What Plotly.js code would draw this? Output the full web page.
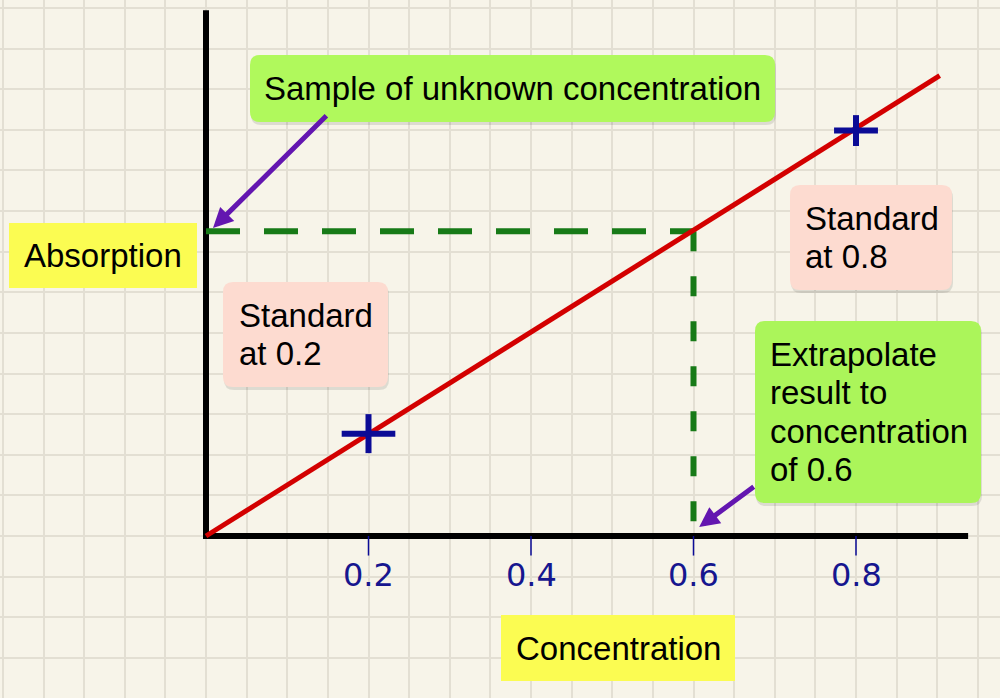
<!DOCTYPE html>
<html>
<head>
<meta charset="utf-8">
<script src="https://cdn.plot.ly/plotly-3.0.1.min.js"></script>
<style>html,body{margin:0;padding:0;background:#f7f4e9;}#chart{width:1000px;height:698px;}</style>
</head>
<body>
<div id="chart"></div>
<script>
// ---- data ----
const calibConc = [0, 0.903];
const calibAbs = [0, 0.5665];
const standardConc = [0.2, 0.8];
const standardAbs = [0.126, 0.499];
const plusHalfWidth = [0.033, 0.027];
const plusHalfHeight = [0.024, 0.019];
const sampleConc = 0.6;
const sampleAbs = 0.375;
const tickValues = [0.2, 0.4, 0.6, 0.8];
const tickLabels = ["0.2", "0.4", "0.6", "0.8"];
const xAxisEnd = 0.938;
const yAxisEnd = 0.647;

// ---- page geometry (px) ----
const W = 1000, H = 698;
const px = x => x / W;
const py = y => 1 - y / H;

function roundRect(x0, y0, x1, y1, r) {
  const rx = r / W, ry = r / H;
  const X0 = px(x0), X1 = px(x1), Y0 = py(y0), Y1 = py(y1);
  if (r === 0) return `M${X0},${Y0} L${X1},${Y0} L${X1},${Y1} L${X0},${Y1} Z`;
  return `M${X0 + rx},${Y0} L${X1 - rx},${Y0} Q${X1},${Y0} ${X1},${Y0 - ry} ` +
         `L${X1},${Y1 + ry} Q${X1},${Y1} ${X1 - rx},${Y1} ` +
         `L${X0 + rx},${Y1} Q${X0},${Y1} ${X0},${Y1 + ry} ` +
         `L${X0},${Y0 - ry} Q${X0},${Y0} ${X0 + rx},${Y0} Z`;
}

const boxes = [
  {lines: ["Sample of unknown concentration"], x0: 250, y0: 55, x1: 775, y1: 122, fill: "#b0f95c", r: 10, align: "center", shadow: true},
  {lines: ["Absorption"], x0: 9, y0: 223, x1: 197, y1: 288, fill: "#fbfc52", r: 0, align: "center", shadow: false},
  {lines: ["Standard", "at 0.2"], x0: 223, y0: 282, x1: 388, y1: 387, fill: "#fddbd0", r: 10, align: "left", pad: 14, shadow: true},
  {lines: ["Standard", "at 0.8"], x0: 790, y0: 185, x1: 952, y1: 290, fill: "#fddbd0", r: 10, align: "left", pad: 13, shadow: true},
  {lines: ["Extrapolate", "result to", "concentration", "of 0.6"], x0: 755, y0: 321, x1: 981, y1: 503, fill: "#abf55a", r: 10, align: "left", pad: 13, shadow: true},
  {lines: ["Concentration"], x0: 501, y0: 615, x1: 735, y1: 681, fill: "#fbfc52", r: 0, align: "center", shadow: false}
];

const textFont = {family: "Liberation Sans, Arial, sans-serif", size: 33, color: "#000000"};
const lineStep = 38.5;

const shapes = [];
const annotations = [];
boxes.forEach(b => {
  if (b.shadow) {
    shapes.push({type: "path", xref: "paper", yref: "paper", layer: "above",
      path: roundRect(b.x0 + 1, b.y0 + 3, b.x1 + 1, b.y1 + 3, b.r),
      fillcolor: "rgba(0,0,0,0.10)", line: {width: 0}});
  }
  shapes.push({type: "path", xref: "paper", yref: "paper", layer: "above",
    path: roundRect(b.x0, b.y0, b.x1, b.y1, b.r),
    fillcolor: b.fill, line: {width: 0}});
  const cyPx = (b.y0 + b.y1) / 2;
  const n = b.lines.length;
  b.lines.forEach((t, i) => {
    const yy = py(cyPx + (i - (n - 1) / 2) * lineStep);
    if (b.align === "center") {
      annotations.push({xref: "paper", yref: "paper", x: px((b.x0 + b.x1) / 2), y: yy,
        xanchor: "center", yanchor: "middle", text: t, showarrow: false, font: textFont});
    } else {
      annotations.push({xref: "paper", yref: "paper", x: px(b.x0 + b.pad), y: yy,
        xanchor: "left", yanchor: "middle", align: "left", text: t, showarrow: false, font: textFont});
    }
  });
});

// tick labels (handwritten style)
tickValues.forEach((v, i) => {
  annotations.push({xref: "x", yref: "y", x: v, y: -0.048, text: tickLabels[i], showarrow: false,
    xanchor: "center", yanchor: "middle",
    font: {family: "DejaVu Sans, sans-serif", size: 32, color: "#16168f"}});
});

// purple arrows
const purple = "#6316b0";
annotations.push({xref: "x", yref: "y", axref: "x", ayref: "y",
  x: 0.0086, y: 0.379, ax: 0.150, ay: 0.519, text: "", showarrow: true,
  arrowhead: 2, arrowsize: 0.8, arrowwidth: 5, arrowcolor: purple, standoff: 0, startstandoff: 0});
annotations.push({xref: "x", yref: "y", axref: "x", ayref: "y",
  x: 0.607, y: 0.011, ax: 0.676, ay: 0.062, text: "", showarrow: true,
  arrowhead: 2, arrowsize: 0.8, arrowwidth: 5, arrowcolor: purple, standoff: 0, startstandoff: 0});

const green = "#177a17";
const blue = "#0b0b96";

const traces = [
  {x: [0, 0, xAxisEnd], y: [yAxisEnd, 0, 0], mode: "lines", line: {color: "#000000", width: 6},
   hoverinfo: "skip", showlegend: false},
  {x: tickValues, y: tickValues.map(() => -0.012), mode: "markers",
   marker: {symbol: "line-ns", size: 14, line: {color: blue, width: 1.5}}, hoverinfo: "skip", showlegend: false},
  {x: [0, sampleConc], y: [sampleAbs, sampleAbs], mode: "lines",
   line: {color: green, width: 6, dash: "34px,24px"}, hoverinfo: "skip", showlegend: false},
  {x: [sampleConc, sampleConc], y: [sampleAbs, 0], mode: "lines",
   line: {color: green, width: 6, dash: "20px,25px"}, hoverinfo: "skip", showlegend: false},
  {x: calibConc, y: calibAbs, mode: "lines", line: {color: "#d30000", width: 5},
   hoverinfo: "skip", showlegend: false},
  {x: standardConc, y: standardAbs, mode: "markers", marker: {size: 0.1, color: blue, opacity: 0},
   error_x: {type: "data", array: plusHalfWidth, symmetric: true, width: 0, thickness: 6, color: blue},
   error_y: {type: "data", array: plusHalfHeight, symmetric: true, width: 0, thickness: 6, color: blue},
   hoverinfo: "skip", showlegend: false}
];

const layout = {
  width: W, height: H,
  margin: {l: 0, r: 0, t: 0, b: 0},
  paper_bgcolor: "#f7f4e9", plot_bgcolor: "#f7f4e9",
  xaxis: {range: [-206 / 812.5, (W - 206) / 812.5], tick0: 0, dtick: 0.05, showgrid: true,
    gridcolor: "#e3dfd3", gridwidth: 2, zeroline: false, showticklabels: false, ticks: "", fixedrange: true},
  yaxis: {range: [-(H - 536) / 812.5, 536 / 812.5], tick0: 0, dtick: 0.05, showgrid: true,
    gridcolor: "#e3dfd3", gridwidth: 2, zeroline: false, showticklabels: false, ticks: "", fixedrange: true},
  shapes: shapes,
  annotations: annotations,
  showlegend: false
};

Plotly.newPlot("chart", traces, layout, {staticPlot: true, displayModeBar: false});
</script>
</body>
</html>
